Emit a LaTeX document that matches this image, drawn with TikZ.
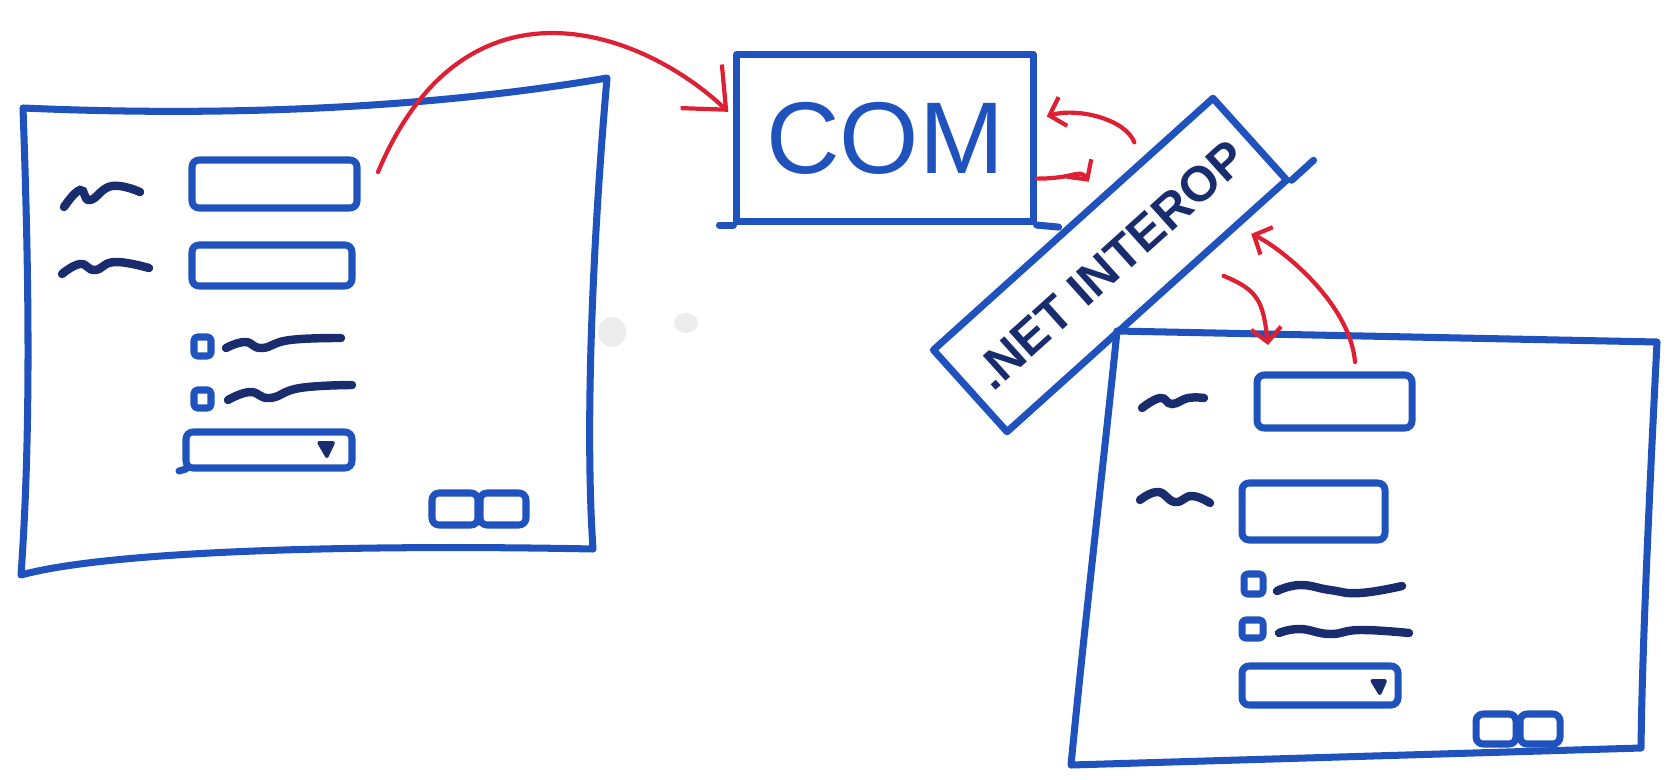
\documentclass[tikz,border=0pt]{standalone}
\usepackage{fontspec}
\setmainfont{Liberation Sans}
\usetikzlibrary{arrows.meta}

\definecolor{markerblue}{RGB}{32,82,190}
\definecolor{markernavy}{RGB}{24,44,110}
\definecolor{markerred}{RGB}{222,32,52}

\begin{document}
\begin{tikzpicture}[x=0.01cm, y=-0.01cm,
        pen/.style = {draw=markerblue, line width=2pt, line cap=round, line join=round},
        scribble/.style = {draw=markernavy, line width=2.4pt, line cap=round},
        field/.style = {pen, rounded corners=2pt},
        tickbox/.style = {pen, rounded corners=1pt},
        redarrow/.style = {draw=markerred, line width=1.2pt, line cap=round,
            -{Straight Barb[length=1.4mm, width=3mm]}},
        bigredarrow/.style = {redarrow, -{Straight Barb[length=3.4mm, width=6mm]}}]

        \useasboundingbox (0,0) rectangle (1671,779);

        % boxes in the middle
        \node[pen, minimum width=2.96cm, minimum height=1.67cm, text=markerblue,
              font=\fontsize{29}{30}\selectfont] (com) at (885,138) {COM};
        \node[pen, rotate=42, minimum width=3.76cm, minimum height=1.10cm, text=markernavy,
              font=\fontsize{14}{15}\selectfont\bfseries] (interop) at (1110,265) {.NET INTEROP};
        \draw[pen] (com.south east) -- ++(22,2);
        \draw[pen] (com.south west) -- ++(-14,0);
        \draw[pen] (interop.south east) -- ++(22,-20);

        % left window
        \def\LTL{(23,108)}
        \def\LTR{(607,78)}
        \def\LBR{(593,549)}
        \def\LBL{(21,575)}
        \draw[pen] \LTL .. controls (250,118) and (450,105) .. \LTR
            .. controls (592,250) and (585,430) .. \LBR
            .. controls (400,545) and (120,548) .. \LBL
            .. controls (32,420) and (28,250) .. \LTL;

        \draw[scribble] plot[smooth, tension=0.8] coordinates {(64,207) (80,190) (90,200) (112,186) (140,192)};
        \draw[field] (192,160) rectangle (357,208);
        \draw[scribble] plot[smooth, tension=0.8] coordinates {(62,274) (80,264) (95,270) (115,262) (149,268)};
        \draw[field] (192,245) rectangle (352,286);

        \draw[tickbox] (194,337) rectangle (211,356);
        \draw[scribble] plot[smooth, tension=0.8] coordinates {(226,348) (245,342) (262,348) (290,340) (341,338)};
        \draw[tickbox] (194,390) rectangle (211,408);
        \draw[scribble] plot[smooth, tension=0.8] coordinates {(228,400) (250,392) (270,398) (300,388) (352,385)};

        \draw[field] (186,432) rectangle (352,468);
        \draw[pen] (186,469) -- (179,471);
        \fill[markernavy, rounded corners=1pt] (316,441) -- (336,441) -- (327,460) -- cycle;

        \foreach \x in {432, 480}
        \draw[field] (\x,493) rectangle ++(46,32);

        % right window
        \def\RTL{(1117,331)}
        \def\RTR{(1657,342)}
        \def\RBR{(1641,748)}
        \def\RBL{(1071,765)}
        \draw[pen] \RTL -- \RTR
            .. controls (1650,480) and (1642,650) .. \RBR
            -- \RBL
            .. controls (1085,620) and (1105,450) .. \RTL;

        \draw[scribble] plot[smooth, tension=0.8] coordinates {(1142,408) (1160,398) (1172,404) (1188,398) (1204,398)};
        \draw[field] (1257,375) rectangle (1412,428);
        \draw[scribble] plot[smooth, tension=0.8] coordinates {(1140,500) (1158,492) (1175,502) (1192,496) (1210,503)};
        \draw[field] (1242,483) rectangle (1385,540);

        \draw[tickbox] (1244,574) rectangle (1263,594);
        \draw[scribble] plot[smooth, tension=0.8] coordinates {(1277,591) (1300,585) (1330,590) (1360,593) (1402,586)};
        \draw[tickbox] (1242,620) rectangle (1263,638);
        \draw[scribble] plot[smooth, tension=0.8] coordinates {(1279,633) (1300,629) (1330,634) (1360,630) (1409,633)};

        \draw[field] (1242,666) rectangle (1398,705);
        \fill[markernavy, rounded corners=1pt] (1369,679) -- (1388,679) -- (1380,697) -- cycle;

        \foreach \x in {1476, 1520}
        \draw[field] (\x,714) rectangle ++(40,30);

        % smudges
        \fill[gray!15] (612,332) ellipse (14 and 15);
        \fill[gray!15] (686,323) ellipse (12 and 10);

        % red arrows
        \coordinate (lwin-out) at (378,172);
        \coordinate (rwin-in) at (1268,345);
        \coordinate (rwin-out) at (1355,362);

        \draw[bigredarrow, shorten >=2pt] (lwin-out) .. controls +(87,-207) and +(-92,-87) .. (com.172);
        \draw[redarrow, shorten <=5pt, shorten >=3pt] (interop.32) .. controls +(-15,-40) and +(40,-12) .. (com.7);
        \draw[redarrow, shorten >=5pt] (com.-15) .. controls +(40,0) and +(-20,-28) .. (interop.57);
        \draw[redarrow, shorten <=8pt] (interop.-42) .. controls +(60,25) and +(-5,-45) .. (rwin-in);
        \draw[redarrow, shorten >=4pt] (rwin-out) .. controls +(-5,-60) and +(40,18) .. (interop.-26);

\end{tikzpicture}
\end{document}
